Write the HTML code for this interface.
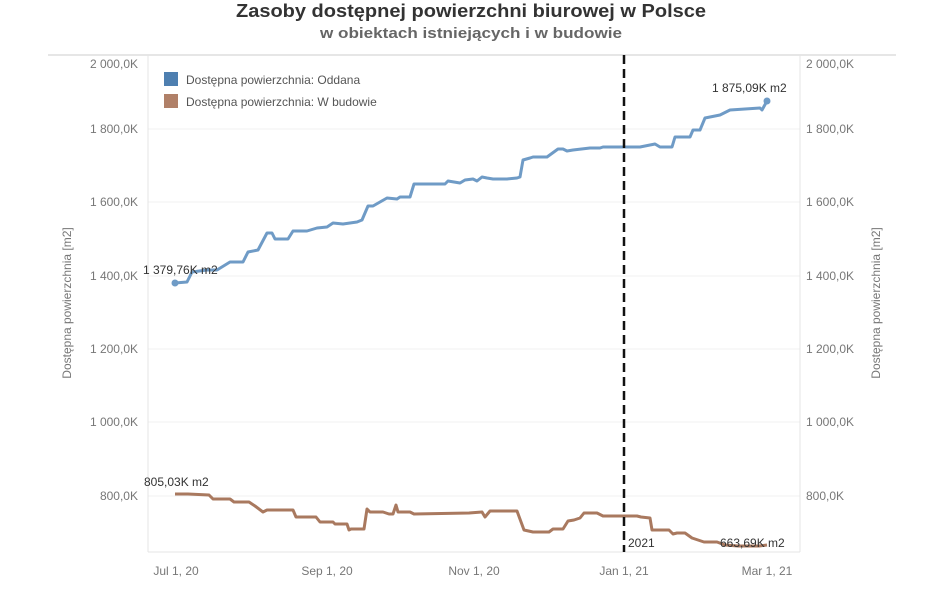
<!DOCTYPE html>
<html><head><meta charset="utf-8"><style>
body{margin:0;background:#fff;width:948px;height:593px;overflow:hidden;font-family:"Liberation Sans",sans-serif}
</style></head><body>
<svg width="948" height="593" xmlns="http://www.w3.org/2000/svg" font-family="Liberation Sans, sans-serif">
<text x="471" y="17" text-anchor="middle" font-size="18" font-weight="bold" fill="#333" textLength="470" lengthAdjust="spacingAndGlyphs">Zasoby dostępnej powierzchni biurowej w Polsce</text>
<text x="471" y="38" text-anchor="middle" font-size="15" font-weight="bold" fill="#666" textLength="302" lengthAdjust="spacingAndGlyphs">w obiektach istniejących i w budowie</text>
<line x1="48" y1="55" x2="896" y2="55" stroke="#ddd" stroke-width="1.5"/>
<g stroke="#f0f0f0" stroke-width="1">
<line x1="148" y1="129" x2="800" y2="129"/><line x1="148" y1="202" x2="800" y2="202"/>
<line x1="148" y1="276" x2="800" y2="276"/><line x1="148" y1="349" x2="800" y2="349"/>
<line x1="148" y1="422" x2="800" y2="422"/><line x1="148" y1="496" x2="800" y2="496"/>
</g>
<line x1="148" y1="55" x2="148" y2="552" stroke="#e4e4e4"/>
<line x1="800" y1="55" x2="800" y2="552" stroke="#e4e4e4"/>
<line x1="148" y1="552" x2="800" y2="552" stroke="#e4e4e4"/>
<g font-size="12" fill="#777">
<text x="138" y="68" text-anchor="end">2 000,0K</text><text x="138" y="133" text-anchor="end">1 800,0K</text>
<text x="138" y="206" text-anchor="end">1 600,0K</text><text x="138" y="280" text-anchor="end">1 400,0K</text>
<text x="138" y="353" text-anchor="end">1 200,0K</text><text x="138" y="426" text-anchor="end">1 000,0K</text>
<text x="138" y="500" text-anchor="end">800,0K</text>
<text x="806" y="68">2 000,0K</text><text x="806" y="133">1 800,0K</text>
<text x="806" y="206">1 600,0K</text><text x="806" y="280">1 400,0K</text>
<text x="806" y="353">1 200,0K</text><text x="806" y="426">1 000,0K</text>
<text x="806" y="500">800,0K</text>
<text x="176" y="575" text-anchor="middle">Jul 1, 20</text><text x="327" y="575" text-anchor="middle">Sep 1, 20</text>
<text x="474" y="575" text-anchor="middle">Nov 1, 20</text><text x="624" y="575" text-anchor="middle">Jan 1, 21</text>
<text x="767" y="575" text-anchor="middle">Mar 1, 21</text>
<text transform="translate(71,303) rotate(-90)" text-anchor="middle">Dostępna powierzchnia [m2]</text>
<text transform="translate(880,303) rotate(-90)" text-anchor="middle">Dostępna powierzchnia [m2]</text>
</g>
<rect x="164" y="72" width="14" height="14" fill="#4e7fb0"/>
<rect x="164" y="94" width="14" height="14" fill="#b08068"/>
<text x="186" y="84" font-size="12" fill="#555">Dostępna powierzchnia: Oddana</text>
<text x="186" y="106" font-size="12" fill="#555">Dostępna powierzchnia: W budowie</text>
<polyline fill="none" stroke="#6f9bc6" stroke-width="3" stroke-linejoin="round" points="175,283 187,282 192,272 207,270 217,270 230,262 243,262 248,252 258,250 267,233 272,233 275,239 288,239 293,231 307,231 317,228 327,227 333,223 343,224 357,222 362,220 368,206 373,206 380,202 387,198 397,199 400,197 410,197 414,184 445,184 448,181 460,183 465,180 473,179 477,181 482,177 487,178 493,179 507,179 517,178 520,177 523,160 530,158 533,157 547,157 558,149 563,149 567,151 573,150 590,148 600,148 603,147 624,147 640,147 655,144 660,147 672,147 675,137 690,137 693,130 700,130 705,118 720,115 730,110 760,108 762,110 767,101"/>
<circle cx="175" cy="283" r="3.5" fill="#6f9bc6"/><circle cx="767" cy="101" r="3.5" fill="#6f9bc6"/>
<polyline fill="none" stroke="#a9795f" stroke-width="3" stroke-linejoin="round" points="175,494 188,494 209,495 213,499 230,499 234,502 249,502 255,506 263,512 267,510 293,510 296,517 316,517 320,522 333,522 335,524 347,524 349,530 351,529 364,529 367,509 370,512 383,512 389,514 393,514 396,505 398,512 410,512 414,514 469,513 482,512 485,517 490,511 517,511 524,530 533,532 549,532 553,529 563,529 568,521 574,520 580,518 584,513 597,513 603,516 637,516 641,517 650,518 652,530 669,530 673,534 677,533 685,533 692,538 704,542 717,542 725,545 738,546 759,546 767,545"/>
<line x1="624" y1="55" x2="624" y2="552" stroke="#111" stroke-width="2.5" stroke-dasharray="9,5"/>
<g font-size="12" fill="#333">
<text x="143" y="274">1 379,76K m2</text>
<text x="712" y="92">1 875,09K m2</text>
<text x="144" y="486">805,03K m2</text>
<text x="628" y="547">2021</text>
<text x="720" y="547">663,69K m2</text>
</g>
</svg>
</body></html>
